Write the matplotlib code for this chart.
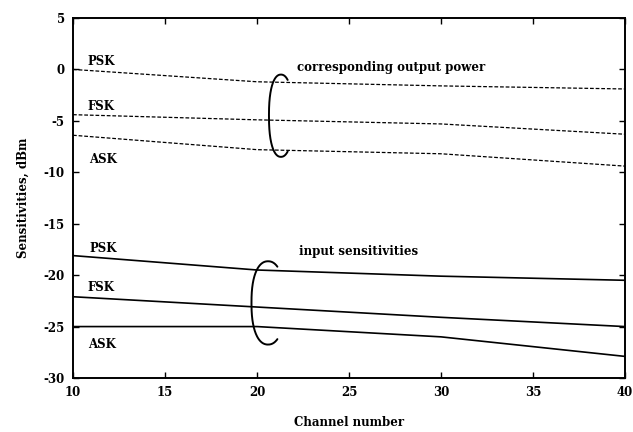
import numpy as np
import matplotlib.pyplot as plt

channels = [10, 20, 30, 40]

# corresponding output power (dashed), dBm
out_psk = [0.0, -1.2, -1.6, -1.9]
out_fsk = [-4.4, -4.9, -5.3, -6.3]
out_ask = [-6.4, -7.8, -8.2, -9.4]

# input sensitivities (solid), dBm
in_psk = [-18.1, -19.5, -20.1, -20.5]
in_fsk = [-22.1, -23.1, -24.1, -25.0]
in_ask = [-25.0, -25.0, -26.0, -27.9]

xticks = [10, 15, 20, 25, 30, 35, 40]
yticks = [5, 0, -5, -10, -15, -20, -25, -30]

plt.rcParams['font.family'] = ['DejaVu Serif']
plt.rcParams['font.weight'] = 'bold'
plt.rcParams['axes.unicode_minus'] = False

fig = plt.figure(figsize=(6.33, 4.32), dpi=100)
ax = fig.add_axes([73 / 633, 54 / 432, 552 / 633, 360 / 432])

for y in (out_psk, out_fsk, out_ask):
    ax.plot(channels, y, color='black', lw=0.9, ls=(0, (3, 1.5)))
for y in (in_psk, in_fsk, in_ask):
    ax.plot(channels, y, color='black', lw=1.2)


def bracket(xc, yc, a, b):
    # "(" shaped brace: half ellipse with small hooks curling right at the ends
    th = np.radians(np.linspace(58, 302, 200))
    c, s = np.cos(th), np.sin(th)
    x = xc + a * np.sign(c) * np.abs(c) ** 0.9
    y = yc + b * np.sign(s) * np.abs(s) ** 0.85
    ax.plot(x, y, color='black', lw=1.4, solid_capstyle='round')


bracket(21.3, -4.5, 0.65, 4.0)
bracket(20.6, -22.7, 0.9, 4.05)

fs = 8.5
ax.text(10.8, 0.8, 'PSK', fontsize=fs, fontweight='bold', va='center')
ax.text(10.8, -3.65, 'FSK', fontsize=fs, fontweight='bold', va='center')
ax.text(10.9, -8.8, 'ASK', fontsize=fs, fontweight='bold', va='center')
ax.text(10.9, -17.4, 'PSK', fontsize=fs, fontweight='bold', va='center')
ax.text(10.8, -21.2, 'FSK', fontsize=fs, fontweight='bold', va='center')
ax.text(10.8, -26.7, 'ASK', fontsize=fs, fontweight='bold', va='center')
ax.text(22.2, 0.15, 'corresponding output power', fontsize=fs, fontweight='bold', va='center')
ax.text(22.3, -17.7, 'input sensitivities', fontsize=fs, fontweight='bold', va='center')

ax.set_xlim(10, 40)
ax.set_ylim(-30, 5)
ax.set_xticks(xticks)
ax.set_yticks(yticks)
ax.tick_params(direction='in', top=True, right=True, length=4, width=1,
               labelsize=fs, pad=6)
for lab in ax.get_xticklabels() + ax.get_yticklabels():
    lab.set_fontweight('bold')
for s in ax.spines.values():
    s.set_linewidth(1.4)

ax.set_xlabel('Channel number', fontsize=fs, fontweight='bold', labelpad=12)
ax.set_ylabel('Sensitivities, dBm', fontsize=fs, fontweight='bold', labelpad=10)

fig.savefig('out.png', dpi=100)
